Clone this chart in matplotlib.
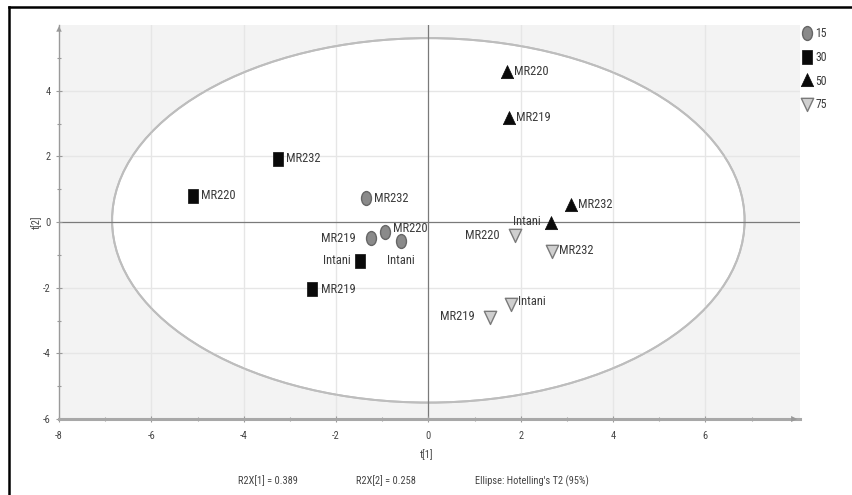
import matplotlib
matplotlib.use("Agg")
import matplotlib.pyplot as plt
import numpy as np
from matplotlib.patches import Ellipse
from matplotlib.path import Path
from matplotlib.lines import Line2D

plt.rcParams['font.family'] = ['DejaVu Sans Condensed', 'Liberation Sans Narrow', 'Roboto Condensed',
                               'DejaVu Sans']
plt.rcParams['axes.unicode_minus'] = False

# ---- data ----
groups = ["15", "30", "50", "75"]
names_15 = ["MR232", "MR220", "MR219", "Intani"]
t1_15 = [-1.36, -0.94, -1.25, -0.59]
t2_15 = [0.72, -0.29, -0.50, -0.58]

names_30 = ["MR232", "MR220", "Intani", "MR219"]
t1_30 = [-3.26, -5.10, -1.48, -2.51]
t2_30 = [1.92, 0.80, -1.18, -2.05]

names_50 = ["MR220", "MR219", "MR232", "Intani"]
t1_50 = [1.70, 1.75, 3.10, 2.65]
t2_50 = [4.58, 3.17, 0.52, -0.02]

names_75 = ["MR220", "MR232", "Intani", "MR219"]
t1_75 = [1.88, 2.67, 1.79, 1.34]
t2_75 = [-0.40, -0.88, -2.50, -2.89]

ellipse_a = 6.85   # semi-axis t[1]
ellipse_b = 5.55   # semi-axis t[2]

xticks = [-8, -6, -4, -2, 0, 2, 4, 6]
yticks = [-6, -4, -2, 0, 2, 4]

bottom_texts = ["R2X[1] = 0.389", "R2X[2] = 0.258", "Ellipse: Hotelling's T2 (95%)"]

# ---- label placement (style) ----
off_15 = [((6, 0), 'left', 'center'), ((6, 2), 'left', 'center'),
          ((-11, 0), 'right', 'center'), ((0, -14), 'center', 'center')]
off_30 = [((6, 0), 'left', 'center'), ((6, 0), 'left', 'center'),
          ((-6.5, 0), 'right', 'center'), ((6, 0), 'left', 'center')]
off_50 = [((5, 0), 'left', 'center'), ((5, 0), 'left', 'center'),
          ((5, 0), 'left', 'center'), ((-7, 1), 'right', 'center')]
off_75 = [((-11, 0), 'right', 'center'), ((5, 0), 'left', 'center'),
          ((5, 2), 'left', 'center'), ((-11, 0), 'right', 'center')]

# ---- stretched markers (image is vertically stretched) ----
def scaled(verts, sx=1.0, sy=1.4):
    v = np.asarray(verts, float) * [sx, sy]
    return v

circ = Path.unit_circle()
m_circle = Path(scaled(circ.vertices), circ.codes)
m_square = Path(scaled([[-0.5, -0.5], [0.5, -0.5], [0.5, 0.5], [-0.5, 0.5], [-0.5, -0.5]]),
                [Path.MOVETO, Path.LINETO, Path.LINETO, Path.LINETO, Path.CLOSEPOLY])
m_tri = Path(scaled([[-0.5, -0.4], [0.5, -0.4], [0, 0.45], [-0.5, -0.4]], 1, 1.25),
             [Path.MOVETO, Path.LINETO, Path.LINETO, Path.CLOSEPOLY])
m_itri = Path(scaled([[-0.5, 0.4], [0.5, 0.4], [0, -0.45], [-0.5, 0.4]], 1, 1.25),
              [Path.MOVETO, Path.LINETO, Path.LINETO, Path.CLOSEPOLY])

styles = [
    dict(marker=m_circle, ms=10, mfc='#8a8a8a', mec='#666666', mew=1.0),
    dict(marker=m_square, ms=10, mfc='#0a0a0a', mec='#0a0a0a', mew=0.5),
    dict(marker=m_tri, ms=10, mfc='#0a0a0a', mec='#0a0a0a', mew=0.5),
    dict(marker=m_itri, ms=10, mfc='#cfcfcf', mec='#7a7a7a', mew=1.0),
]

W, H = 853, 495
fig = plt.figure(figsize=(W / 100, H / 100), dpi=100)
fig.patch.set_facecolor('white')
ax = fig.add_axes([59 / W, 1 - 419 / H, (800 - 59) / W, (419 - 25) / H])
ax.set_xlim(-8, 8.05)
ax.set_ylim(-6, 6)
ax.set_facecolor('#f3f3f3')

ell = Ellipse((0, 0.05), 2 * ellipse_a, 2 * ellipse_b, facecolor='white',
              edgecolor='#bdbdbd', lw=1.4, zorder=0.3)
ax.add_patch(ell)
ell2 = Ellipse((0, 0.05), 2 * ellipse_a, 2 * ellipse_b, facecolor='none',
               edgecolor='#bdbdbd', lw=1.4, zorder=1.2)
ax.add_patch(ell2)

# grid
for xv in xticks[1:]:
    if xv != 0:
        ax.axvline(xv, color='#e6e6e6', lw=1.0, zorder=0.6)
for yv in yticks[1:]:
    if yv != 0:
        ax.axhline(yv, color='#e6e6e6', lw=1.0, zorder=0.6)
ax.axvline(0, color='#7a7a7a', lw=0.9, zorder=1.3)
ax.axhline(0, color='#7a7a7a', lw=0.9, zorder=1.3)

for s in ['top', 'right']:
    ax.spines[s].set_visible(False)
ax.spines['left'].set_color('#9a9a9a')
ax.spines['left'].set_linewidth(1.0)
ax.spines['bottom'].set_color('#a8a8a8')
ax.spines['bottom'].set_linewidth(2.2)

# arrows
ax.annotate('', xy=(8.05, -6), xytext=(7.5, -6),
            arrowprops=dict(arrowstyle='-|>', color='#999999', lw=0, mutation_scale=11),
            annotation_clip=False)
ax.annotate('', xy=(-8, 6.05), xytext=(-8, 5.5),
            arrowprops=dict(arrowstyle='-|>', color='#999999', lw=0, mutation_scale=10),
            annotation_clip=False)

ax.set_xticks(xticks)
ax.set_yticks(yticks)
ax.set_xticks([-7, -5, -3, -1, 1, 3, 5, 7], minor=True)
ax.set_yticks([-5, -3, -1, 1, 3, 5], minor=True)
ax.tick_params(which='both', direction='inout', color='#9a9a9a', labelcolor='#444444',
               labelsize=7.5)
ax.tick_params(which='major', length=5, width=0.8)
ax.tick_params(which='minor', length=3, width=0.8)
ax.tick_params(axis='x', pad=6)

xs = [t1_15, t1_30, t1_50, t1_75]
ys = [t2_15, t2_30, t2_50, t2_75]
ns = [names_15, names_30, names_50, names_75]
offs = [off_15, off_30, off_50, off_75]
handles = []
for g, x, y, n, o, st in zip(groups, xs, ys, ns, offs, styles):
    h, = ax.plot(x, y, ls='none', zorder=3, label=g, **st)
    handles.append(h)
    for xi, yi, ni, (oxy, ha, va) in zip(x, y, n, o):
        ax.annotate(ni, (xi, yi), xytext=oxy, textcoords='offset points',
                    ha=ha, va=va, fontsize=9, color='#3a3a3a', zorder=4)

leg = fig.legend(handles=handles, loc='upper left', bbox_to_anchor=(800 / W, 1 - 25 / H),
                 frameon=False, fontsize=8.5, handlelength=0.8, handletextpad=0.3,
                 labelspacing=0.9, borderaxespad=0, borderpad=0.2, markerscale=1.0)
for t in leg.get_texts():
    t.set_color('#3a3a3a')

fig.text(427 / W, 1 - 455 / H, "t[1]", fontsize=7.5, color='#444444', ha='center', va='center')
fig.text(37 / W, 1 - 222 / H, "t[2]", fontsize=7.5, color='#444444', ha='center', va='center',
         rotation=90)
for txt, xc in zip(bottom_texts, [268, 386, 532]):
    fig.text(xc / W, 1 - 481 / H, txt, fontsize=7.5, color='#444444', ha='center', va='center')

# outer frame (cropped picture border)
fig.add_artist(Line2D([9 / W, 9 / W], [0, 1 - 7 / H], color='black', lw=1.8,
                      transform=fig.transFigure))
fig.add_artist(Line2D([9 / W, 1], [1 - 7 / H, 1 - 7 / H], color='black', lw=1.8,
                      transform=fig.transFigure))

fig.savefig('out.png', dpi=100)
